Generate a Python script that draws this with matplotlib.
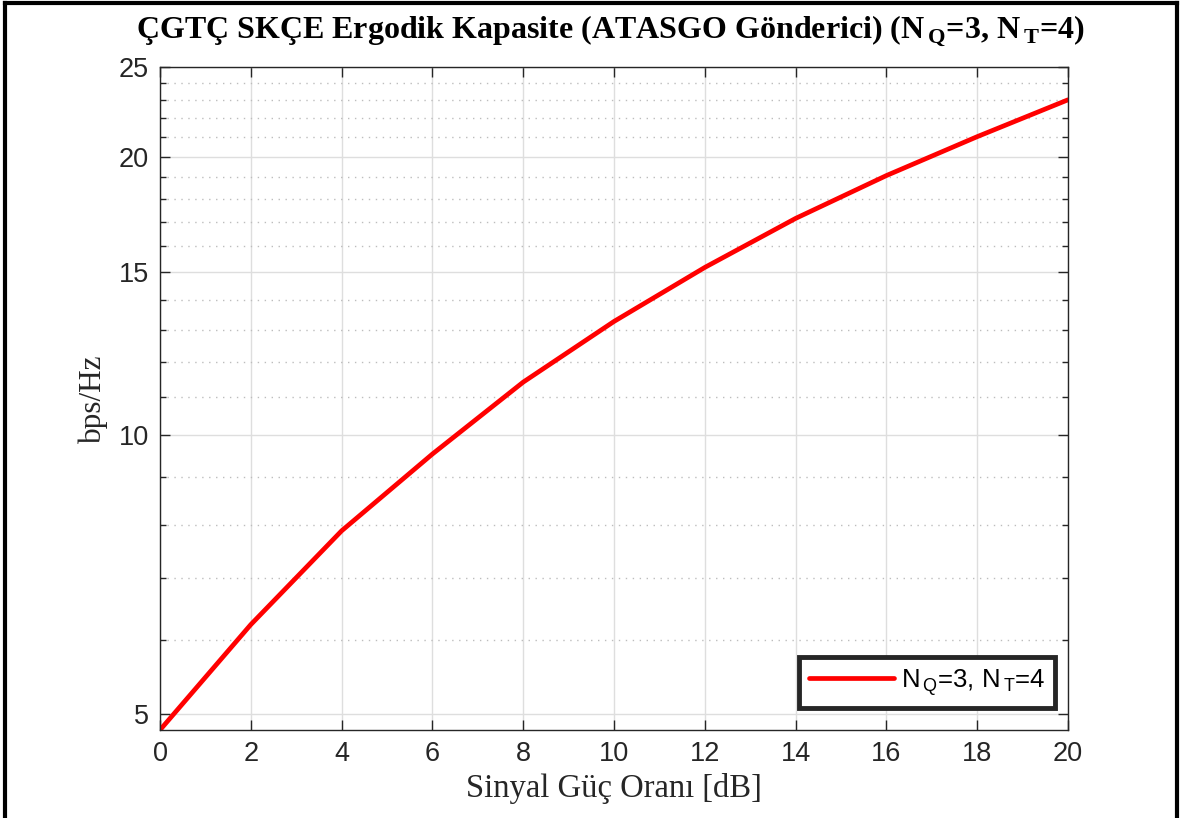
import matplotlib
matplotlib.use("Agg")
import matplotlib.pyplot as plt
from matplotlib.lines import Line2D
from matplotlib.ticker import FixedLocator, NullFormatter

# veriler
snr_db = [0, 2, 4, 6, 8, 10, 12, 14, 16, 18, 20]
capacity = [4.8, 6.24, 7.88, 9.54, 11.41, 13.27, 15.18, 17.15, 19.08, 21.02, 23.04]
x_ticks = [0, 2, 4, 6, 8, 10, 12, 14, 16, 18, 20]
y_ticks = [5, 10, 15, 20, 25]
y_minor = [6, 7, 8, 9, 11, 12, 13, 14, 16, 17, 18, 19, 21, 22, 23, 24]

plt.rcParams['mathtext.fontset'] = 'custom'
plt.rcParams['mathtext.bf'] = 'Liberation Serif:bold'
plt.rcParams['mathtext.rm'] = 'Liberation Serif'
plt.rcParams['mathtext.sf'] = 'Liberation Sans'

axis_col = '#262626'

fig = plt.figure(figsize=(11.8, 8.18), dpi=100)
ax = fig.add_axes([160 / 1180, 1 - 730 / 818, 908 / 1180, 663 / 818])

ax.plot(snr_db, capacity, color='#ff0000', lw=3.4,
        label=r'N$_{\,\mathsf{Q}}$=3, N$_{\,\mathsf{T}}$=4', solid_capstyle='round')

ax.set_yscale('log')
ax.set_xlim(0, 20)
ax.set_ylim(4.8, 25)
ax.set_xticks(x_ticks)
ax.yaxis.set_major_locator(FixedLocator(y_ticks))
ax.yaxis.set_minor_locator(FixedLocator(y_minor))
ax.yaxis.set_minor_formatter(NullFormatter())
ax.set_yticklabels([str(v) for v in y_ticks])

# ızgara
ax.grid(True, which='major', color='#dedede', lw=1.0, ls='-')
ax.grid(True, which='minor', axis='y', color='#bdbdbd', lw=1.0, ls=(0, (1, 4)))
ax.set_axisbelow(True)

ax.tick_params(which='both', direction='in', top=True, right=True,
               colors=axis_col, labelcolor=axis_col)
ax.tick_params(which='major', length=7, width=1, labelsize=19.5,
               labelfontfamily='Liberation Sans', pad=8)
ax.tick_params(which='minor', length=4, width=1)
for s in ax.spines.values():
    s.set_color(axis_col)
    s.set_linewidth(1.0)

ax.set_xlabel('Sinyal Güç Oranı [dB]', fontsize=23.5, family='Liberation Serif',
              color=axis_col, labelpad=4)
ax.set_ylabel('bps/Hz', fontsize=22.5, family='Liberation Serif',
              color=axis_col, labelpad=8)

fig.text(610 / 1180, 1 - 38 / 818,
         r'ÇGTÇ SKÇE Ergodik Kapasite (ATASGO Gönderici) (N$_{\,\mathbf{Q}}$=3, N$_{\,\mathbf{T}}$=4)',
         ha='center', va='baseline', fontsize=23, fontweight='bold',
         family='Liberation Serif', color='black')

leg = ax.legend(loc='lower right', bbox_to_anchor=(0.986, 0.033), borderaxespad=0,
                fancybox=False, framealpha=1, edgecolor=axis_col,
                prop={'family': 'Liberation Sans', 'size': 18.5},
                handlelength=3.3, handletextpad=0.25, borderpad=0.4)
leg.get_frame().set_linewidth(3.5)

# dış çerçeve
for xs, ys in [([5 / 1180, 5 / 1180], [0, 1 - 3 / 818]),
               ([5 / 1180, 1177 / 1180], [1 - 3 / 818, 1 - 3 / 818]),
               ([1177 / 1180, 1177 / 1180], [0, 1 - 3 / 818])]:
    fig.add_artist(Line2D(xs, ys, color='black', lw=3, transform=fig.transFigure))

fig.savefig('out.png', dpi=100)
